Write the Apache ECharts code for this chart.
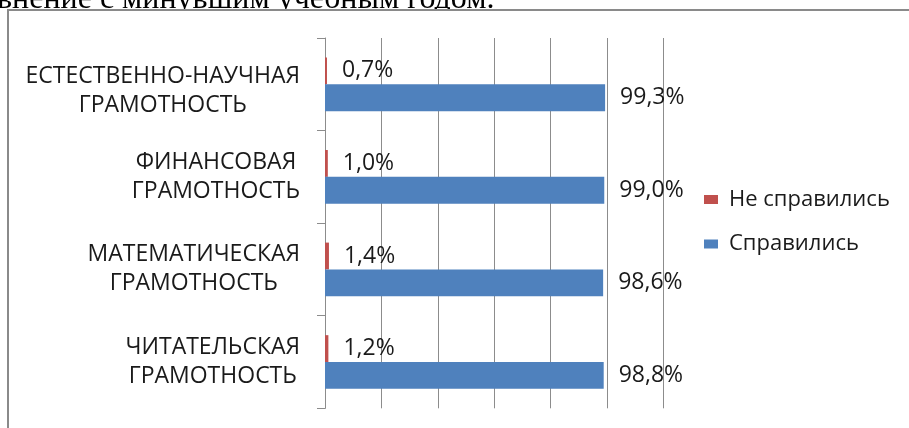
<!DOCTYPE html>
<html><head><meta charset="utf-8">
<script src="https://cdn.jsdelivr.net/npm/echarts@6/dist/echarts.min.js"></script>
<style>html,body{margin:0;padding:0;background:#fff}#c{width:909px;height:428px}</style>
</head><body><div id="c"></div>
<script>
const categories = ['ЧИТАТЕЛЬСКАЯ\nГРАМОТНОСТЬ', 'МАТЕМАТИЧЕСКАЯ\nГРАМОТНОСТЬ', 'ФИНАНСОВАЯ\nГРАМОТНОСТЬ', 'ЕСТЕСТВЕННО-НАУЧНАЯ\nГРАМОТНОСТЬ'];
const seriesNames = ['Не справились', 'Справились'];
const failed = [1.2, 1.4, 1.0, 0.7];
const passed = [98.8, 98.6, 99.0, 99.3];
const headerText = 'внение с минувшим учебным годом.';

const FONT = 'Open Sans';
const FS = 23;
const fmt = p => p.value.toFixed(1).replace('.', ',') + '%';

const catData = categories.map((c, i) => i === categories.length - 1
  ? {value: c, textStyle: {padding: [14, 0, 0, 0]}} : c);

const chart = echarts.init(document.getElementById('c'), null, {renderer: 'canvas'});
chart.setOption({
  animation: false,
  backgroundColor: '#fff',
  textStyle: {fontFamily: FONT},
  graphic: [
    {type: 'text', z: -10, left: -3, top: -16,
     style: {text: headerText, font: '32px "Liberation Serif"', fill: '#000'}},
    {type: 'rect', z: -5, shape: {x: 8, y: 10, width: 1000, height: 1000},
     style: {fill: '#fff', stroke: '#8a8a8a', lineWidth: 2}}
  ],
  grid: {left: 325, right: 245.5, top: 38, bottom: 19.7, containLabel: false},
  legend: {
    data: seriesNames, orient: 'vertical', left: 704, top: 188.5, padding: 0,
    icon: 'rect', itemWidth: 14, itemHeight: 9, itemGap: 22.5,
    itemStyle: {borderWidth: 0},
    textStyle: {fontFamily: FONT, fontSize: 22, color: '#1a1a1a', lineHeight: 22, padding: [0, 0, 0, 6]}
  },
  xAxis: {
    type: 'value', min: 0, max: 120, interval: 20,
    axisLine: {show: false}, axisTick: {show: false}, axisLabel: {show: false},
    splitLine: {show: true, lineStyle: {color: '#8c8c8c', width: 1}}
  },
  yAxis: {
    type: 'category', data: catData,
    axisLine: {show: true, lineStyle: {color: '#8c8c8c', width: 1}},
    axisTick: {show: true, length: 8, lineStyle: {color: '#8c8c8c'}},
    axisLabel: {
      margin: 25, color: '#1a1a1a', fontFamily: FONT, fontSize: FS, lineHeight: 29,
      formatter: v => v.split('\n').map(l => '{c|' + l + '}').join('\n'),
      rich: {c: {align: 'center', fontFamily: FONT, fontSize: FS, lineHeight: 29, color: '#1a1a1a'}}
    }
  },
  series: [
    {name: seriesNames[0], type: 'bar', data: failed, barGap: '0%', barCategoryGap: '42%',
     itemStyle: {color: '#C0504D'},
     label: {show: true, position: 'right', distance: 15, formatter: fmt,
             fontFamily: FONT, fontSize: FS, color: '#1a1a1a'}},
    {name: seriesNames[1], type: 'bar', data: passed, barGap: '0%', barCategoryGap: '42%',
     itemStyle: {color: '#4F81BD'},
     label: {show: true, position: 'right', distance: 15, formatter: fmt,
             fontFamily: FONT, fontSize: FS, color: '#1a1a1a'}}
  ]
});
</script></body></html>
